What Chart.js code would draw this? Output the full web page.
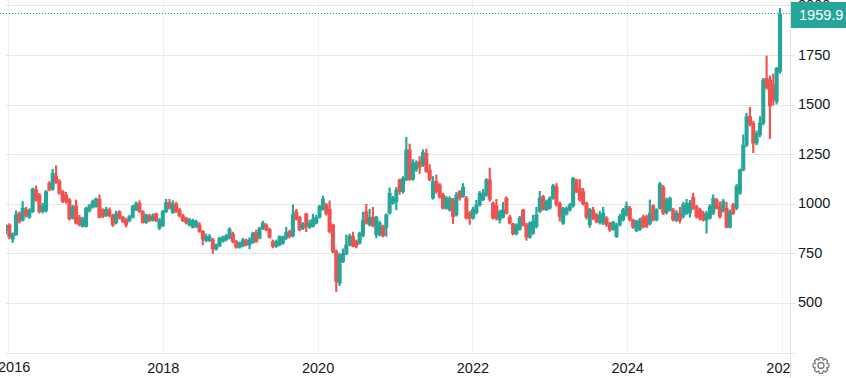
<!DOCTYPE html>
<html>
<head>
<meta charset="utf-8">
<style>
html, body { margin: 0; padding: 0; background: #fff; overflow: hidden; }
canvas { display: block; }
</style>
<script src="https://cdn.jsdelivr.net/npm/chart.js@4"></script>
</head>
<body>
<canvas id="priceChart" width="846" height="378"></canvas>
<script>
const opens = [
    868,896,824,846,955,920,972,935,963,1073,
    1047,963,967,1106,1076,1143,1115,1064,1047,1022,
    930,992,935,888,888,968,985,989,1026,972,
    942,972,942,908,963,935,921,918,935,972,
    1005,963,908,942,918,952,880,891,963,1009,
    958,1002,972,942,930,896,884,888,896,863,
    817,817,821,774,790,812,821,829,851,812,
    782,790,817,795,807,858,829,879,896,874,
    812,787,795,804,829,863,841,963,935,879,
    952,884,888,905,935,975,997,975,896,762,
    602,711,750,795,837,812,804,841,963,896,
    935,846,846,888,884,955,1005,1014,1123,1064,
    1123,1274,1126,1177,1215,1199,1257,1173,1031,1115,
    1098,1047,980,972,1022,947,1064,1039,1031,955,
    930,958,997,1022,1047,1123,1005,992,921,935,
    1031,935,901,851,874,972,896,834,854,888,
    963,1039,972,980,1031,1089,1005,904,951,972,
    992,1123,1081,1064,1005,896,972,946,908,904,
    930,904,874,837,896,921,946,980,921,867,
    874,935,938,901,992,921,980,1086,958,972,
    972,918,955,938,955,955,1035,988,972,955,
    921,930,955,1022,988,968,980,884,997,980,
    1056,1173,1299,1442,1408,1308,1350,1408,1635,1627,
    1602,1518,1670
];
const highs = [
    896,902,856,967,962,1014,985,978,1082,1092,
    1055,1005,1070,1115,1177,1194,1125,1070,1060,1030,
    995,1022,945,935,985,1000,1022,1032,1047,978,
    985,982,950,965,968,940,930,945,995,1012,
    1018,968,950,950,952,955,928,970,1025,1025,
    1018,1010,980,950,935,930,925,920,908,868,
    850,848,828,800,835,840,848,882,860,818,
    810,828,825,832,860,870,885,915,902,880,
    820,820,842,840,884,870,997,975,940,908,
    955,920,950,945,995,1042,1005,1017,900,770,
    752,775,845,850,860,820,860,960,1000,975,
    985,940,915,895,952,1082,1040,1085,1128,1140,
    1338,1304,1225,1220,1241,1275,1278,1200,1140,1148,
    1105,1055,1040,1038,1030,1060,1070,1105,1040,965,
    985,1020,1065,1075,1130,1183,1012,1025,970,1010,
    1038,945,905,902,940,975,905,912,945,985,
    1065,1045,1022,1038,1100,1105,1012,985,988,1005,
    1135,1127,1125,1080,1012,980,985,955,965,985,
    938,910,915,905,950,980,1012,990,925,920,
    930,945,945,1022,998,978,1110,1095,1032,1036,
    980,968,985,1010,1025,1020,1056,995,980,965,
    965,998,1048,1030,1012,1025,1010,972,1005,1100,
    1178,1350,1459,1489,1420,1370,1442,1635,1748,1647,
    1657,1690,1988
];
const lows = [
    850,825,807,842,905,915,935,928,958,1015,
    955,955,960,1068,1070,1105,1050,1008,1005,920,
    925,900,890,885,885,960,980,985,930,932,
    938,935,888,900,925,908,885,910,930,968,
    958,905,903,912,915,912,872,888,958,975,
    953,958,935,912,900,890,880,882,858,795,
    810,812,752,768,785,808,815,825,805,778,
    778,785,790,775,803,808,825,872,865,828,
    780,782,790,798,822,830,835,920,865,872,
    862,878,885,900,930,970,945,855,755,560,
    590,706,745,790,785,780,798,835,900,890,
    885,830,840,835,838,950,1000,972,1050,1055,
    1118,1120,1120,1165,1155,1190,1160,1118,1025,1055,
    1030,975,975,965,903,940,1020,1035,925,898,
    925,950,990,1018,1040,1015,925,920,905,930,
    950,900,845,845,868,890,818,828,848,880,
    958,970,968,975,1025,990,915,898,945,965,
    985,1058,1015,995,925,884,922,905,900,898,
    888,862,868,832,890,915,940,915,878,862,
    868,880,882,896,915,915,975,948,950,965,
    915,912,905,930,948,935,972,930,920,915,
    854,925,948,975,930,960,880,880,948,972,
    1050,1168,1290,1395,1260,1299,1340,1400,1580,1331,
    1500,1505,1660
];
const closes = [
    891,837,851,947,913,980,942,972,1076,1022,
    963,992,1064,1073,1157,1110,1056,1014,1014,926,
    985,905,896,925,980,992,1014,1026,935,938,
    975,942,896,952,930,913,896,938,989,1002,
    963,908,947,918,942,918,921,963,1009,980,
    1002,963,942,918,908,921,918,913,863,824,
    837,837,774,795,829,834,841,874,812,784,
    804,821,795,821,854,812,879,905,871,834,
    787,812,837,834,858,837,947,925,871,901,
    888,905,925,935,989,1026,952,863,762,611,
    745,750,795,841,790,787,854,918,905,935,
    891,935,905,841,947,1056,1030,1073,1064,1131,
    1274,1126,1207,1210,1187,1261,1165,1123,1115,1064,
    1039,980,1031,1031,938,1047,1031,1086,930,930,
    975,997,1056,1056,1123,1025,930,930,963,972,
    955,905,851,896,930,896,834,905,913,947,
    1031,975,1014,1031,1093,997,938,980,980,997,
    1131,1064,1022,1002,935,972,930,913,946,955,
    896,871,908,896,938,972,992,921,884,913,
    921,888,888,955,921,972,1103,955,1022,1030,
    921,955,918,997,1005,1005,980,938,930,921,
    955,988,1030,980,938,1014,884,963,955,1089,
    1173,1299,1442,1405,1308,1358,1408,1627,1590,1496,
    1526,1686,1959.9
];
const yearTicks = [2016, 2018, 2020, 2022, 2024, 2026];
const priceTicks = [250, 500, 750, 1000, 1250, 1500, 1750, 2000];
const lastPrice = 1959.9;

const firstCandle = 2015.968;
const candleStep = 0.0431;
const dates = opens.map((_, i) => firstCandle + i * candleStep);

const upColor = '#26a69a';
const downColor = '#ef5350';
const candleColors = opens.map((o, i) => closes[i] >= o ? upColor : downColor);
const labelFont = { family: '"Liberation Sans", Arial, sans-serif', size: 14.5 };

const canvas = document.getElementById('priceChart');
const ctx = canvas.getContext('2d', { alpha: false });

// white page, price line, price tag, axis edge and settings gear
const overlay = {
    id: 'overlay',
    beforeDraw(chart) {
        const c = chart.ctx;
        c.save();
        c.fillStyle = '#fff';
        c.fillRect(0, 0, chart.width, chart.height);
        c.restore();
    },
    afterDraw(chart) {
        const c = chart.ctx;
        const edge = chart.chartArea.right;
        const y = Math.round(chart.scales.y.getPixelForValue(lastPrice)) - 0.5;
        c.save();

        c.fillStyle = '#fff';
        c.fillRect(edge, 354, chart.width - edge, 24);

        c.strokeStyle = '#e0e0e0';
        c.lineWidth = 1;
        c.beginPath();
        c.moveTo(edge + 0.5, 0);
        c.lineTo(edge + 0.5, chart.height);
        c.stroke();

        c.strokeStyle = upColor;
        c.setLineDash([1, 2]);
        c.beginPath();
        c.moveTo(0, y);
        c.lineTo(edge, y);
        c.stroke();
        c.setLineDash([]);

        c.font = labelFont.size + 'px ' + labelFont.family;
        c.textBaseline = 'middle';

        // first year label sits against the left edge, not centred on its gridline
        c.fillStyle = '#131722';
        c.fillText(String(yearTicks[0]), -2, 367.5);

        c.fillStyle = upColor;
        c.fillRect(edge + 1, 2, chart.width - edge - 1, 26);
        c.fillStyle = '#fff';
        c.fillText(lastPrice.toFixed(1), 799, 15.5);

        // gear
        const gx = 821, gy = 365.5, teeth = 8;
        c.strokeStyle = '#7b7b7b';
        c.lineWidth = 1.3;
        c.beginPath();
        for (let i = 0; i < teeth; i++) {
            const a = i * Math.PI * 2 / teeth;
            const w = Math.PI / teeth;
            [[6, -w], [8, -w * 0.5], [8, w * 0.5], [6, w]].forEach(([r, d], j) => {
                const px = gx + r * Math.cos(a + d);
                const py = gy + r * Math.sin(a + d);
                if (i === 0 && j === 0) c.moveTo(px, py); else c.lineTo(px, py);
            });
        }
        c.closePath();
        c.moveTo(gx + 3, gy);
        c.arc(gx, gy, 3, 0, Math.PI * 2);
        c.stroke();
        c.restore();
    }
};

new Chart(ctx, {
    type: 'bar',
    data: {
        datasets: [
            {
                label: 'Body',
                data: dates.map((d, i) => ({ x: d, y: [opens[i], closes[i]] })),
                backgroundColor: candleColors,
                barThickness: 3.4,
                grouped: false,
                borderWidth: 0
            },
            {
                label: 'Wick',
                data: dates.map((d, i) => ({ x: d, y: [lows[i], highs[i]] })),
                backgroundColor: candleColors,
                barThickness: 1.5,
                grouped: false,
                borderWidth: 0
            }
        ]
    },
    options: {
        responsive: false,
        animation: false,
        devicePixelRatio: 1,
        layout: { padding: { left: 6, right: 0, top: 0, bottom: 0 } },
        plugins: {
            legend: { display: false },
            tooltip: { enabled: false }
        },
        scales: {
            x: {
                type: 'linear',
                offset: false,
                min: 2015.968,
                max: 2026.097,
                afterBuildTicks: scale => { scale.ticks = yearTicks.map(value => ({ value })); },
                afterFit: scale => {
                    scale.height = 25;
                    scale.paddingLeft = 0;
                    scale.paddingRight = 0;
                },
                border: { display: false },
                grid: { color: '#edf1f5', drawTicks: false, offset: false },
                ticks: {
                    autoSkip: false,
                    maxRotation: 0,
                    padding: 7,
                    color: '#131722',
                    font: labelFont,
                    callback: value => value === yearTicks[0] ? '' : String(value)
                }
            },
            y: {
                position: 'right',
                min: 250,
                max: 2030,
                afterBuildTicks: scale => { scale.ticks = priceTicks.map(value => ({ value })); },
                afterFit: scale => {
                    scale.width = 56;
                    scale.paddingTop = 0;
                    scale.paddingBottom = 0;
                },
                border: { display: false },
                grid: { color: '#e6e6e6', tickLength: 5, tickColor: '#e6e6e6' },
                ticks: {
                    padding: 3,
                    color: '#131722',
                    font: labelFont,
                    callback: value => value === 250 ? '' : String(value)
                }
            }
        }
    },
    plugins: [overlay]
});
</script>
</body>
</html>
